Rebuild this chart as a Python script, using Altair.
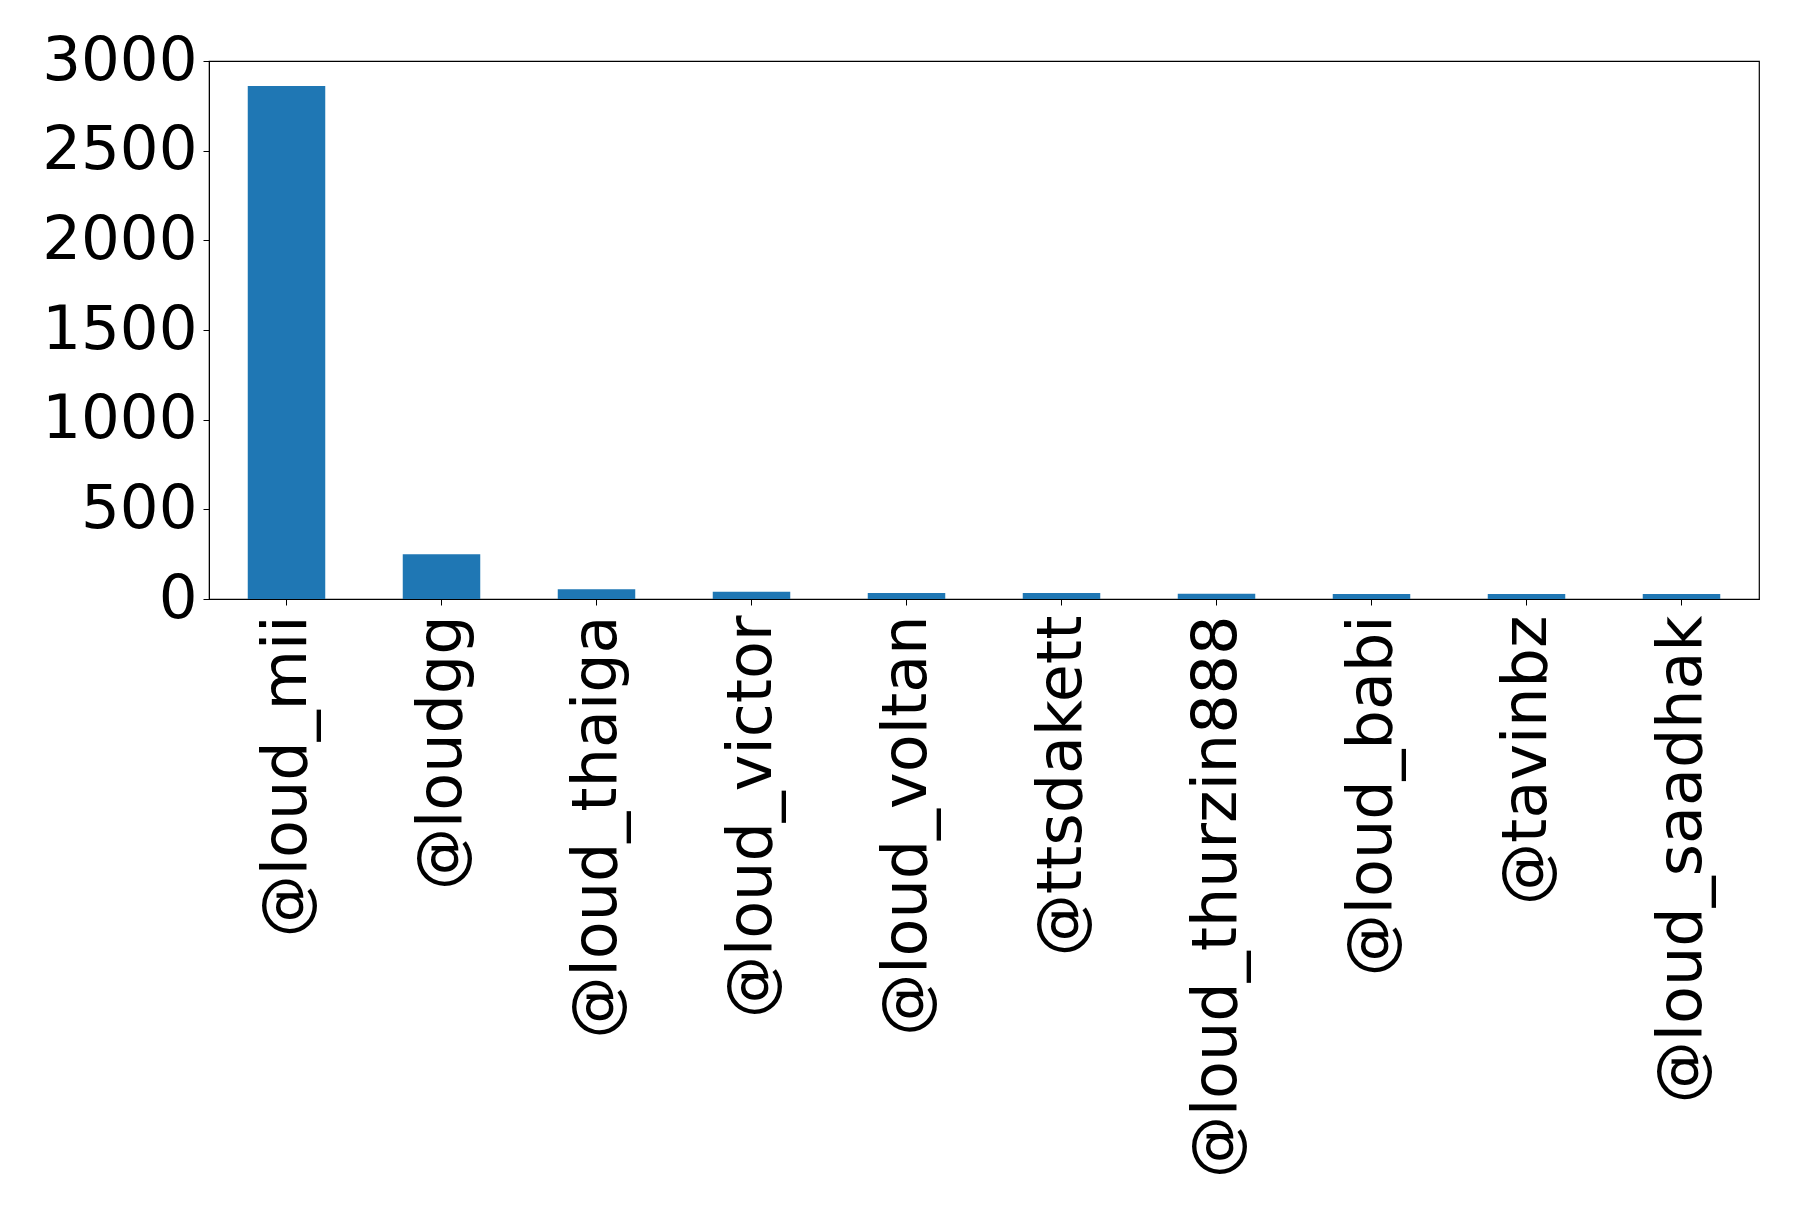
import altair as alt
import pandas as pd

users = ["@loud_mii", "@loudgg", "@loud_thaiga", "@loud_victor", "@loud_voltan",
         "@ttsdakett", "@loud_thurzin888", "@loud_babi", "@tavinbz", "@loud_saadhak"]
counts = [2860, 250, 54, 40, 34, 34, 29, 28, 28, 28]
y_ticks = [0, 500, 1000, 1500, 2000, 2500, 3000]

df = pd.DataFrame({"user": users, "count": counts})

FONT = "DejaVu Sans"

chart = alt.Chart(df).mark_bar(color="#1f77b4").encode(
    x=alt.X("user:N", sort=users, title=None,
            scale=alt.Scale(paddingInner=0.5, paddingOuter=0.25),
            axis=alt.Axis(labelAngle=-90, labelAlign="right", labelBaseline="middle",
                          labelFont=FONT, labelFontSize=62, labelColor="black",
                          labelPadding=10, tickSize=6, tickColor="black",
                          domainColor="black", grid=False, labelLimit=0)),
    y=alt.Y("count:Q", title=None,
            scale=alt.Scale(domain=[0, 3000], nice=False),
            axis=alt.Axis(values=y_ticks, format="d", labelFont=FONT, labelFontSize=61,
                          labelColor="black", labelPadding=6, tickSize=6,
                          tickColor="black", domainColor="black", grid=False)),
).properties(
    width=1550, height=538,
    autosize=alt.AutoSizeParams(type="none"),
    padding={"left": 201, "top": 53, "right": 30, "bottom": 590},
).configure_view(stroke="black", strokeWidth=1.2)

chart.save("out.html", embed_options={"renderer": "svg", "actions": False})
